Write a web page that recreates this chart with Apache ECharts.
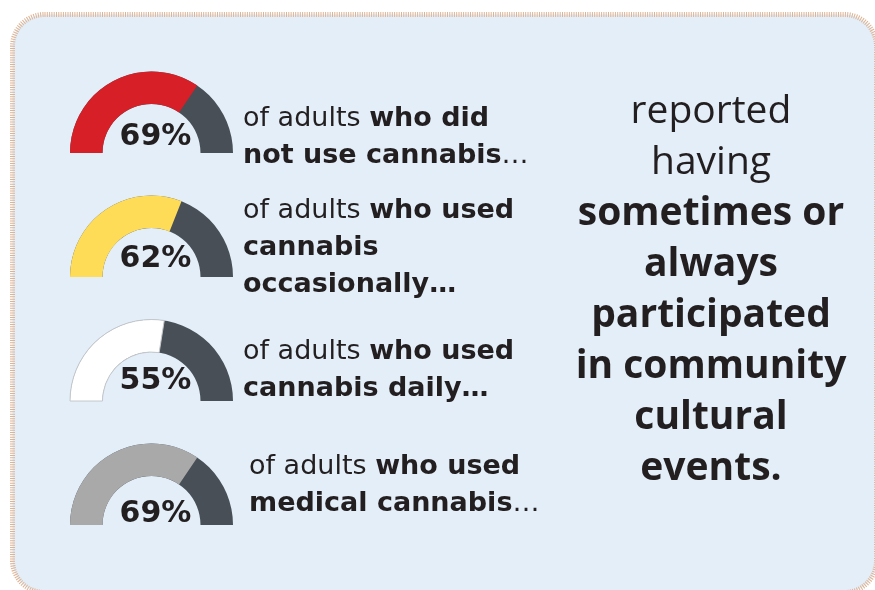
<!DOCTYPE html>
<html>
<head>
<meta charset="utf-8">
<script src="https://cdn.jsdelivr.net/npm/echarts@6/dist/echarts.min.js"></script>
<style>
html,body{margin:0;padding:0;background:#ffffff;}
#chart{width:875px;height:590px;}
</style>
</head>
<body>
<div id="chart"></div>
<script>
// ---- data ----
const groups = ['did not use cannabis', 'used cannabis occasionally', 'used cannabis daily', 'used medical cannabis'];
const percentValues = [69, 62, 55, 69];
const descriptions = [
  '{r|of adults }{b|who did}\n{b|not use cannabis}{r|…}',
  '{r|of adults }{b|who used}\n{b|cannabis}\n{b|occasionally…}',
  '{r|of adults }{b|who used}\n{b|cannabis daily…}',
  '{r|of adults }{b|who used}\n{b|medical cannabis}{r|…}'
];
const outcomeText = '{r|reported}\n{r|having}\n{b|sometimes or}\n{b|always}\n{b|participated}\n{b|in community}\n{b|cultural}\n{b|events.}';

// ---- styles / layout ----
const FONT = '"Open Sans", "DejaVu Sans", sans-serif';
const FONT2 = '"DejaVu Sans", "Open Sans", sans-serif';
const TXT = '#231f20';
const fillColors = ['#d71f27', '#fedc57', '#ffffff', '#a9a9a9'];
const restColor = '#484f57';
const gaugeCenters = [[151.5, 153], [151.5, 277], [151.5, 401], [151.5, 525]];
const labelOffsets = [[4, -16], [4, -18], [4, -20], [4, -11]];
const textPos = [[243, 100], [243, 192], [243, 333], [249, 448]];

const chart = echarts.init(document.getElementById('chart'), null, {renderer: 'canvas'});

const series = percentValues.map((v, i) => ({
  type: 'gauge',
  name: groups[i],
  center: gaugeCenters[i],
  radius: 81.5,
  startAngle: 180,
  endAngle: 0,
  min: 0,
  max: 100,
  silent: true,
  axisLine: {lineStyle: {width: 32.5, color: [[1, restColor]]}},
  progress: {show: true, width: 32.5, roundCap: false,
    itemStyle: {color: fillColors[i], borderColor: i === 2 ? '#c4c8cc' : 'transparent', borderWidth: i === 2 ? 1 : 0}},
  pointer: {show: false},
  anchor: {show: false},
  axisTick: {show: false},
  splitLine: {show: false},
  axisLabel: {show: false},
  title: {show: false},
  detail: {
    show: true,
    offsetCenter: labelOffsets[i],
    formatter: '{value}%',
    fontFamily: FONT2,
    fontWeight: 'bold',
    fontSize: 30,
    color: TXT
  },
  data: [{value: v, name: groups[i]}]
}));

const graphics = [
  {
    type: 'rect', z: -10, silent: true,
    shape: {x: 12.5, y: 14.5, width: 864, height: 578, r: 32},
    style: {fill: '#e3eef8', stroke: '#dfb291', lineWidth: 5, lineDash: [1, 1.3]}
  }
];
descriptions.forEach((d, i) => {
  graphics.push({
    type: 'text', silent: true,
    x: textPos[i][0], y: textPos[i][1],
    style: {
      text: d,
      textVerticalAlign: 'top',
      fill: TXT,
      rich: {
        r: {fontFamily: FONT2, fontSize: 27, fontWeight: 'normal', lineHeight: 37, fill: TXT},
        b: {fontFamily: FONT2, fontSize: 27, fontWeight: 'bold', lineHeight: 37, fill: TXT}
      }
    }
  });
});
graphics.push({
  type: 'text', silent: true,
  x: 711, y: 86,
  style: {
    text: outcomeText,
    align: 'center',
    textAlign: 'center',
    textVerticalAlign: 'top',
    fill: TXT,
    rich: {
      r: {fontFamily: FONT, fontSize: 39, fontWeight: 'normal', lineHeight: 51, fill: TXT, align: 'center'},
      b: {fontFamily: FONT, fontSize: 39, fontWeight: 'bold', lineHeight: 51, fill: TXT, align: 'center'}
    }
  }
});

chart.setOption({
  backgroundColor: '#ffffff',
  animation: false,
  graphic: graphics,
  series: series
});
</script>
</body>
</html>
